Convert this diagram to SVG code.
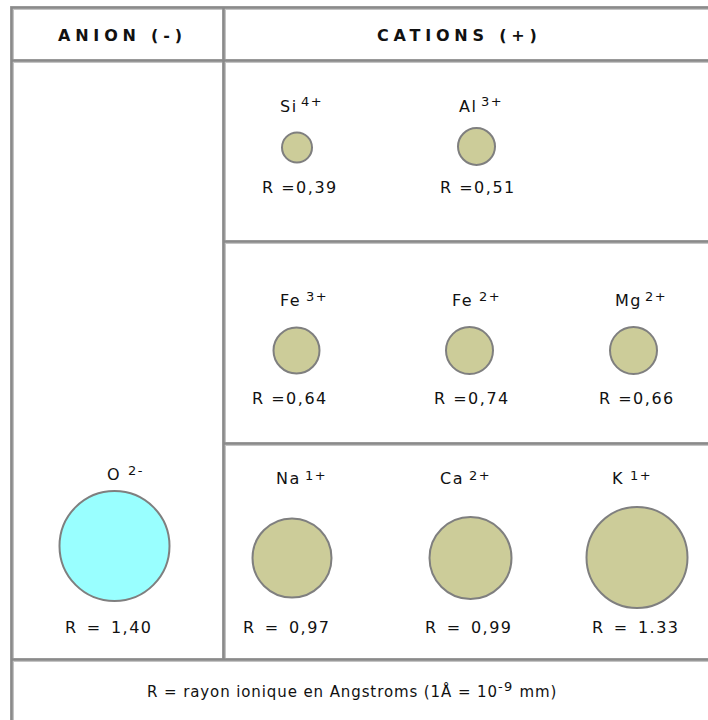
<svg xmlns="http://www.w3.org/2000/svg" width="708" height="720" viewBox="0 0 708 720">
<style>
.bg{fill:#ffffff}
.gl{stroke:#c4c4c4;stroke-width:4;fill:none}
.gd{stroke:#8a8a8a;stroke-width:2.5;fill:none}
.hd{font-family:"DejaVu Sans",Verdana,sans-serif;font-weight:bold;font-size:16px;letter-spacing:4.8px;fill:#111}
.lb{font-family:"DejaVu Sans",Verdana,sans-serif;font-size:16px;letter-spacing:1.5px;fill:#111}
.sup{font-size:13px;letter-spacing:1.5px}
.rw{word-spacing:2.6px}
.ft{font-family:"DejaVu Sans",Verdana,sans-serif;font-size:15px;letter-spacing:0.9px;fill:#111}
.cat{fill:#cccc99;stroke:#7f7f7f;stroke-width:2}
.an{fill:#99ffff;stroke:#7f7f7f;stroke-width:2}
</style>
<rect class="bg" x="0" y="0" width="708" height="720"/>
<g id="grid">
<path class="gl" d="M12 720V8H708M12 61H708M224 8V660M224 242H708M224 444H708M12 660H708"/>
<path class="gd" d="M11.5 720V7.5H708M12 60.5H708M223.5 8V660M224 241.5H708M224 443.5H708M12 659.5H708"/>
</g>
<g id="connectors"/>
<g id="header">
<text class="hd" x="58" y="41">ANION (-)</text>
<text class="hd" x="377" y="41">CATIONS (+)</text>
</g>
<g id="ion-O">
<circle class="an" cx="114.5" cy="546" r="55"/>
<text class="lb"><tspan x="107" y="480">O</tspan><tspan class="sup" x="128" y="475">2-</tspan></text>
<text class="lb rw" x="65" y="633">R = 1,40</text>
</g>
<g id="ion-Si">
<circle class="cat" cx="297" cy="147.5" r="15"/>
<text class="lb"><tspan x="280" y="112">Si</tspan><tspan class="sup" x="301" y="106">4+</tspan></text>
<text class="lb" x="262" y="193">R =0,39</text>
</g>
<g id="ion-Al">
<circle class="cat" cx="476.5" cy="146.5" r="18.5"/>
<text class="lb"><tspan x="459" y="112">Al</tspan><tspan class="sup" x="481" y="106">3+</tspan></text>
<text class="lb" x="440" y="193">R =0,51</text>
</g>
<g id="ion-Fe3">
<circle class="cat" cx="296.5" cy="350.5" r="23"/>
<text class="lb"><tspan x="280" y="306">Fe</tspan><tspan class="sup" x="306" y="301">3+</tspan></text>
<text class="lb" x="252" y="404">R =0,64</text>
</g>
<g id="ion-Fe2">
<circle class="cat" cx="469.5" cy="350.5" r="23.5"/>
<text class="lb"><tspan x="452" y="306">Fe</tspan><tspan class="sup" x="479" y="301">2+</tspan></text>
<text class="lb" x="434" y="404">R =0,74</text>
</g>
<g id="ion-Mg">
<circle class="cat" cx="633.5" cy="350.5" r="23.5"/>
<text class="lb"><tspan x="615" y="306">Mg</tspan><tspan class="sup" x="645" y="301">2+</tspan></text>
<text class="lb" x="599" y="404">R =0,66</text>
</g>
<g id="ion-Na">
<circle class="cat" cx="292" cy="558" r="39.5"/>
<text class="lb"><tspan x="276" y="484">Na</tspan><tspan class="sup" x="305" y="480">1+</tspan></text>
<text class="lb rw" x="243" y="633">R = 0,97</text>
</g>
<g id="ion-Ca">
<circle class="cat" cx="470.5" cy="558" r="41"/>
<text class="lb"><tspan x="440" y="484">Ca</tspan><tspan class="sup" x="469" y="480">2+</tspan></text>
<text class="lb rw" x="425" y="633">R = 0,99</text>
</g>
<g id="ion-K">
<circle class="cat" cx="637" cy="557.5" r="50.5"/>
<text class="lb"><tspan x="612" y="484">K</tspan><tspan class="sup" x="630" y="480">1+</tspan></text>
<text class="lb rw" x="592" y="633">R = 1.33</text>
</g>
<g id="footer">
<text class="ft" x="147" y="697">R = rayon ionique en Angstroms (1Å = 10<tspan class="sup" dy="-6">-9</tspan><tspan dy="6"> mm)</tspan></text>
</g>
</svg>
